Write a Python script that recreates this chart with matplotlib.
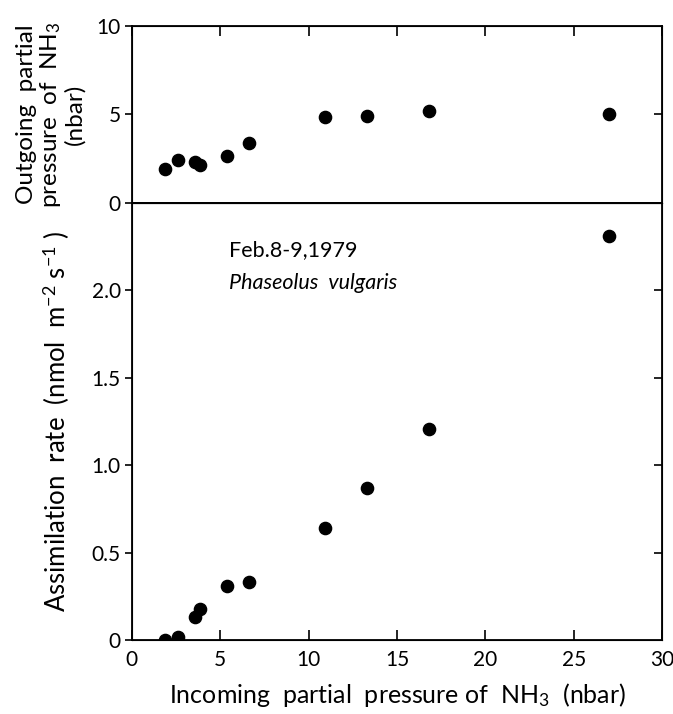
import numpy as np
import matplotlib.pyplot as plt

plt.rcParams['font.family'] = ['Lato', 'DejaVu Sans']
plt.rcParams['mathtext.fontset'] = 'custom'
plt.rcParams['mathtext.rm'] = 'Lato'
plt.rcParams['mathtext.it'] = 'Lato:italic'

# incoming NH3 partial pressure (nbar)
x_in = [1.85, 2.6, 3.55, 3.85, 5.4, 6.6, 10.9, 13.3, 16.8, 27.0]
# outgoing NH3 partial pressure (nbar)
y_out = [1.9, 2.43, 2.33, 2.15, 2.67, 3.37, 4.88, 4.92, 5.2, 5.0]
# assimilation rate (nmol m-2 s-1)
assim = [0.0, 0.02, 0.13, 0.18, 0.31, 0.33, 0.64, 0.87, 1.21, 2.31]

fig = plt.figure(figsize=(6.73, 7.14), dpi=100)
gs = fig.add_gridspec(2, 1, height_ratios=[177, 437], hspace=0,
                      left=0.196, right=0.984, top=0.9636, bottom=0.1036)
ax1 = fig.add_subplot(gs[0])
ax2 = fig.add_subplot(gs[1], sharex=ax1)

ax1.plot(x_in, y_out, 'o', color='k', ms=8.8)
ax2.plot(x_in, assim, 'o', color='k', ms=8.8)

ax1.set_xlim(0, 30)
ax1.set_ylim(0, 10)
ax2.set_ylim(0, 2.5)

for ax in (ax1, ax2):
    for s in ax.spines.values():
        s.set_linewidth(1.3)

# top panel ticks
ax1.set_yticks([0, 5, 10])
ax1.set_yticklabels(['0', '5', '10'])
ax1.tick_params(axis='y', which='both', direction='out', length=5, width=1.2,
                labelsize=15, right=False, pad=3)
ax1.tick_params(axis='x', which='both', bottom=False, labelbottom=False,
                top=True, direction='in', length=7, width=1.2)
ax1.set_xticks([0, 5, 10, 15, 20, 25, 30])
ax1r = ax1.twinx()
ax1r.set_ylim(0, 10)
ax1r.set_yticks([5])
ax1r.tick_params(axis='y', direction='in', length=6, width=1.2, labelright=False)

# bottom panel ticks
ax2.set_yticks([0, 0.5, 1.0, 1.5, 2.0])
ax2.set_yticklabels(['0', '0.5', '1.0', '1.5', '2.0'])
ax2.tick_params(axis='y', direction='out', length=5, width=1.2, labelsize=15, pad=3)
ax2.tick_params(axis='x', direction='in', length=7, width=1.2, labelsize=15,
                top=False, pad=7)
ax2r = ax2.twinx()
ax2r.set_ylim(0, 2.5)
ax2r.set_yticks([0.5, 1.0, 1.5, 2.0])
ax2r.tick_params(axis='y', direction='in', length=6, width=1.2, labelright=False)

ax2.set_xticks([0, 5, 10, 15, 20, 25, 30])
ax2.set_xticklabels(['0', '5', '10', '15', '20', '25', '30'])

ax1.set_ylabel('Outgoing  partial\npressure  of  NH$_3$\n(nbar)', fontsize=17.5,
               linespacing=1.05, labelpad=8)
ax2.set_ylabel('Assimilation  rate  (nmol  m$^{-2}$ s$^{-1}$ )', fontsize=18.5,
               labelpad=14)
ax2.set_xlabel('Incoming  partial  pressure of  NH$_3$  (nbar)', fontsize=18,
               labelpad=8)

ax2.text(5.5, 2.23, 'Feb.8-9,1979', fontsize=15.5, ha='left', va='center')
ax2.text(5.5, 2.04, 'Phaseolus  vulgaris', fontsize=15.5, style='italic',
         ha='left', va='center')

fig.savefig('out.png', dpi=100)
